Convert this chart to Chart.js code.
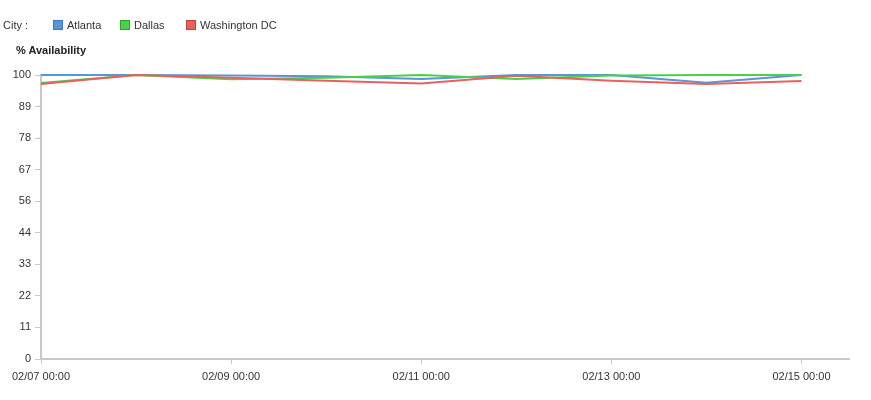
<!DOCTYPE html>
<html>
<head>
<meta charset="utf-8">
<script src="https://cdn.jsdelivr.net/npm/chart.js@4/dist/chart.umd.min.js"></script>
<style>
  html, body { margin: 0; padding: 0; background: #fff; }
  #wrap { position: relative; width: 871px; height: 400px; font-family: "Liberation Sans", Arial, sans-serif; }
  #legend { position: absolute; left: 0; top: 19px; width: 871px; height: 14px; font-size: 11px; color: #333; }
  #legend .lbl { position: absolute; left: 3px; top: 0; }
  #legend .item { position: absolute; top: 0; display: flex; align-items: center; white-space: nowrap; }
  #legend .box { width: 8px; height: 8px; margin-right: 4px; border: 1px solid; }
  #ytitle { position: absolute; left: 16px; top: 44px; font-size: 11px; font-weight: bold; color: #222; }
  canvas { position: absolute; left: 0; top: 0; }
</style>
</head>
<body>
<div id="wrap">
  <canvas id="c" width="871" height="400"></canvas>
  <div id="legend"><span class="lbl">City :</span></div>
  <div id="ytitle">% Availability</div>
</div>
<script>
const days = [0, 1, 2, 3, 4, 5, 6, 7, 8];
const xTickLabels = ['02/07 00:00', '02/08 00:00', '02/09 00:00', '02/10 00:00', '02/11 00:00', '02/12 00:00', '02/13 00:00', '02/14 00:00', '02/15 00:00'];
const atlanta    = [100, 100, 99.8, 99.6, 98.6, 100, 100, 97.3, 100];
const dallas     = [97.2, 100, 98.5, 99.0, 100, 98.6, 99.8, 100, 100];
const washington = [96.8, 100, 99.0, 98.0, 97.0, 99.7, 98.0, 96.8, 97.9];
const yTicks = [0, 100/9, 200/9, 300/9, 400/9, 500/9, 600/9, 700/9, 800/9, 100];

const series = [
  { label: 'Atlanta', data: atlanta, color: '#5a95d8', border: '#3f78b8', order: 3, left: 53 },
  { label: 'Dallas', data: dallas, color: '#4ccf4c', border: '#2f9f2f', order: 2, left: 120 },
  { label: 'Washington DC', data: washington, color: '#e8625c', border: '#b8443f', order: 1, left: 186 }
];

const legend = document.getElementById('legend');
series.forEach(s => {
  const it = document.createElement('span');
  it.className = 'item';
  it.style.left = s.left + 'px';
  it.innerHTML = '<span class="box" style="background:' + s.color + ';border-color:' + s.border + '"></span>' + s.label;
  legend.appendChild(it);
});

new Chart(document.getElementById('c'), {
  type: 'line',
  data: {
    datasets: series.map(s => ({
      label: s.label,
      data: days.map((d, i) => ({ x: d, y: s.data[i] })),
      borderColor: s.color,
      backgroundColor: s.color,
      borderWidth: 2,
      pointRadius: 0,
      tension: 0,
      clip: false,
      order: s.order
    }))
  },
  options: {
    responsive: false,
    animation: false,
    layout: { padding: { top: 75, right: 22, left: 0, bottom: 0 } },
    plugins: { legend: { display: false }, tooltip: { enabled: false } },
    scales: {
      x: {
        type: 'linear',
        min: 0,
        max: 8.5,
        afterBuildTicks: axis => { axis.ticks = [0, 2, 4, 6, 8].map(v => ({ value: v })); },
        afterFit: scale => { scale.height = 41; },
        ticks: {
          autoSkip: false,
          maxRotation: 0,
          padding: 6,
          color: '#333',
          font: { family: 'Liberation Sans', size: 11 },
          callback: v => xTickLabels[v]
        },
        grid: { drawOnChartArea: false, drawTicks: true, tickLength: 5, color: '#c8c8c8' },
        border: { color: '#c8c8c8', width: 2 }
      },
      y: {
        type: 'linear',
        min: 0,
        max: 100,
        afterBuildTicks: axis => { axis.ticks = yTicks.map(v => ({ value: v })); },
        afterFit: scale => { scale.width = 41; },
        ticks: {
          autoSkip: false,
          padding: 4,
          color: '#333',
          font: { family: 'Liberation Sans', size: 11 },
          callback: v => String(Math.round(v))
        },
        grid: { drawOnChartArea: false, drawTicks: true, tickLength: 6, color: '#c8c8c8' },
        border: { color: '#c8c8c8', width: 2 }
      }
    }
  }
});
</script>
</body>
</html>
